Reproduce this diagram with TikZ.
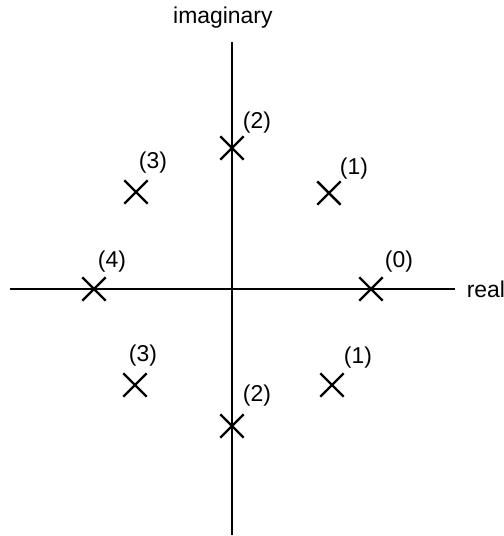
\documentclass[tikz,border=0pt]{standalone}
\usepackage{fontspec}
\setmainfont{Liberation Sans}
\usetikzlibrary{shapes.misc,positioning}

\begin{document}
\begin{tikzpicture}[line width=1.1pt,
  pole/.style={cross out,draw,line width=1.2pt,minimum size=0.37cm,inner sep=0pt},
  tag/.style={font=\fontsize{11.5}{13}\selectfont,inner sep=0pt}]
\useasboundingbox (-4.092,-4.357) rectangle (4.798,5.098);
% axes
\coordinate (xl) at (-3.916,0);
\coordinate (xr) at (3.933,0);
\coordinate (yb) at (0,-4.339);
\coordinate (yt) at (0,4.357);
\draw (xl)--(xr);
\draw (yb)--(yt);
\node[tag,right=0.19cm of xr] (re) {real};
\node[tag] (im) at (-0.16,4.78) {imaginary};
% poles
\node[pole] (p0) at (2.452,0) {};
\node[pole] (p1) at (1.711,1.693) {};
\node[pole] (p2) at (0,2.487) {};
\node[pole] (p3) at (-1.693,1.711) {};
\node[pole] (p4) at (-2.434,0) {};
\node[pole] (p5) at (-1.711,-1.693) {};
\node[pole] (p6) at (0,-2.417) {};
\node[pole] (p7) at (1.764,-1.693) {};
\node[tag] (l0) at (2.946,0.476) {(0)};
\node[tag] (l1) at (2.152,2.117) {(1)};
\node[tag] (l2) at (0.441,2.928) {(2)};
\node[tag] (l3) at (-1.393,2.222) {(3)};
\node[tag] (l4) at (-2.117,0.476) {(4)};
\node[tag] (l5) at (-1.570,-1.182) {(3)};
\node[tag] (l6) at (0.441,-1.887) {(2)};
\node[tag] (l7) at (2.222,-1.217) {(1)};
\end{tikzpicture}
\end{document}
